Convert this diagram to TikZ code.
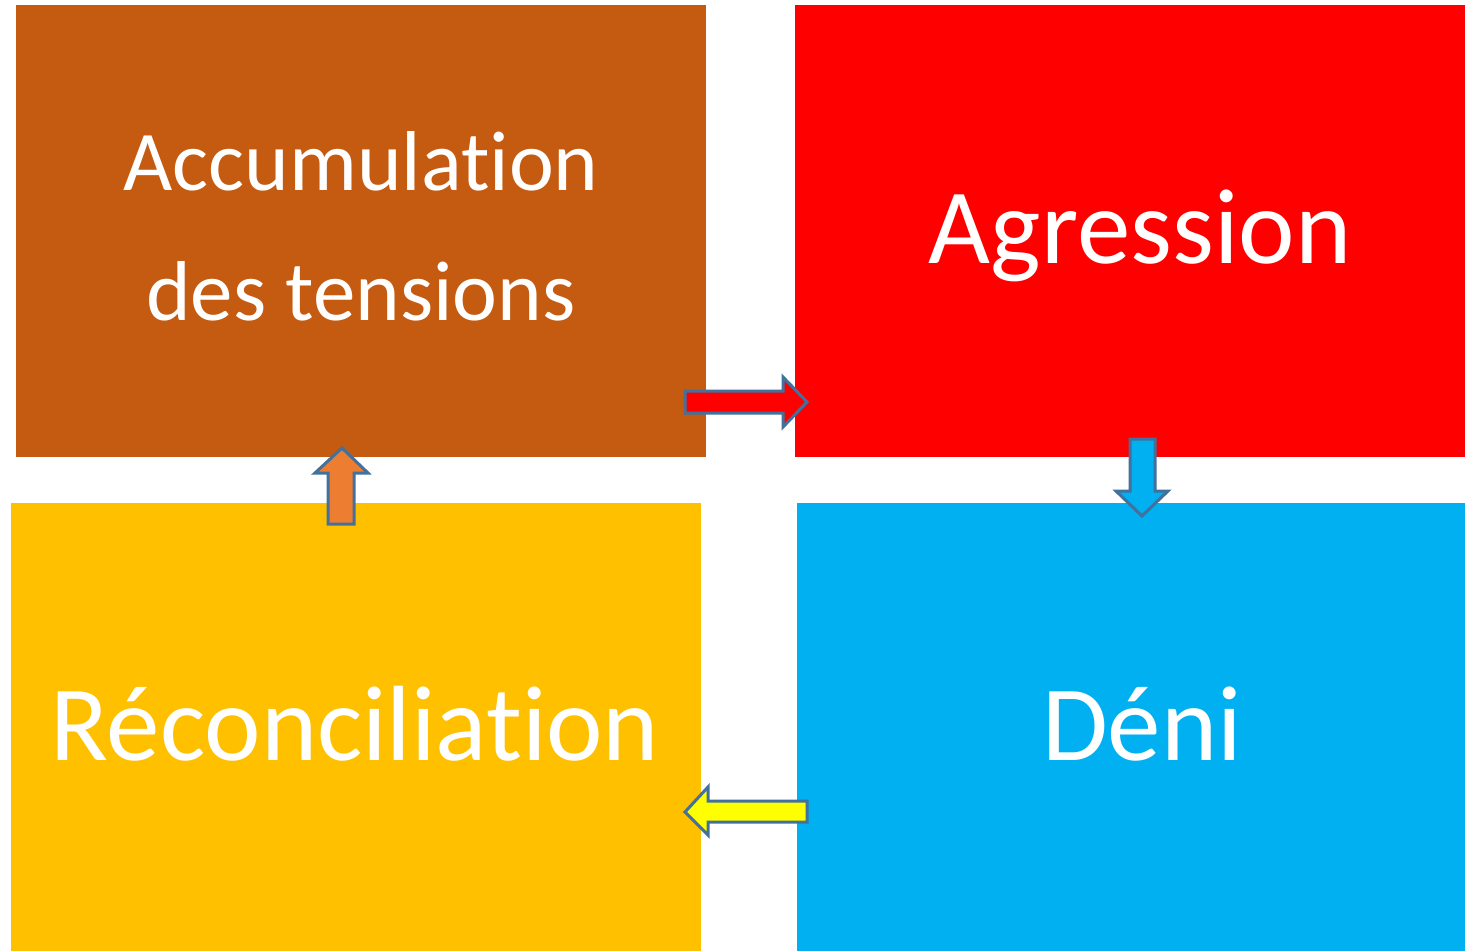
\documentclass[tikz,border=0pt]{standalone}
\usepackage{fontspec}
\setmainfont{Carlito}[Ligatures=NoCommon]
\definecolor{cbrown}{HTML}{C55A11}
\definecolor{cred}{HTML}{FF0000}
\definecolor{cyel}{HTML}{FFC000}
\definecolor{cblue}{HTML}{00B0F0}
\definecolor{corange}{HTML}{ED7D31}
\definecolor{cyellow}{HTML}{FFFF00}
\definecolor{cline}{HTML}{41719C}
\begin{document}
\begin{tikzpicture}[x=1pt,y=-1pt,
  lbl/.style={text=white,anchor=base,inner sep=0pt},
  blockarrow/.style={draw=cline,line width=3pt,line join=miter}]
\useasboundingbox (0,0) rectangle (1465,951);
\fill[white] (0,0) rectangle (1465,951);
\fill[cbrown] (16,5) rectangle (706,457);
\fill[cred] (795,5) rectangle (1465,457);
\fill[cyel] (11,503) rectangle (701,951);
\fill[cblue] (797,503) rectangle (1465,951);
\node[lbl,font=\fontsize{85}{100}\selectfont] (acc1) at (361,190) {Accumulation};
\node[lbl,font=\fontsize{85}{100}\selectfont] (acc2) at (361,320) {des tensions};
\node[lbl,font=\fontsize{107}{120}\selectfont] (agr) at (1140,263) {Agression};
\node[lbl,font=\fontsize{107}{120}\selectfont] (rec) at (355,760) {Réconciliation};
\node[lbl,font=\fontsize{107}{120}\selectfont] (den) at (1142,760) {Déni};
% red arrow right
\draw[blockarrow,fill=cred] (685,391) -- (783,391) -- (783,377) -- (807,402) -- (783,427) -- (783,413) -- (685,413) -- cycle;
% blue arrow down
\draw[blockarrow,fill=cblue] (1130,439) -- (1155,439) -- (1155,491) -- (1168,491) -- (1142,516) -- (1116,491) -- (1130,491) -- cycle;
% yellow arrow left
\draw[blockarrow,fill=cyellow] (807,801) -- (708,801) -- (708,787) -- (685,812) -- (708,835) -- (708,822) -- (807,822) -- cycle;
% orange arrow up
\draw[blockarrow,fill=corange] (328,524) -- (328,473) -- (315,473) -- (342,448) -- (368,473) -- (354,473) -- (354,524) -- cycle;
\end{tikzpicture}
\end{document}
